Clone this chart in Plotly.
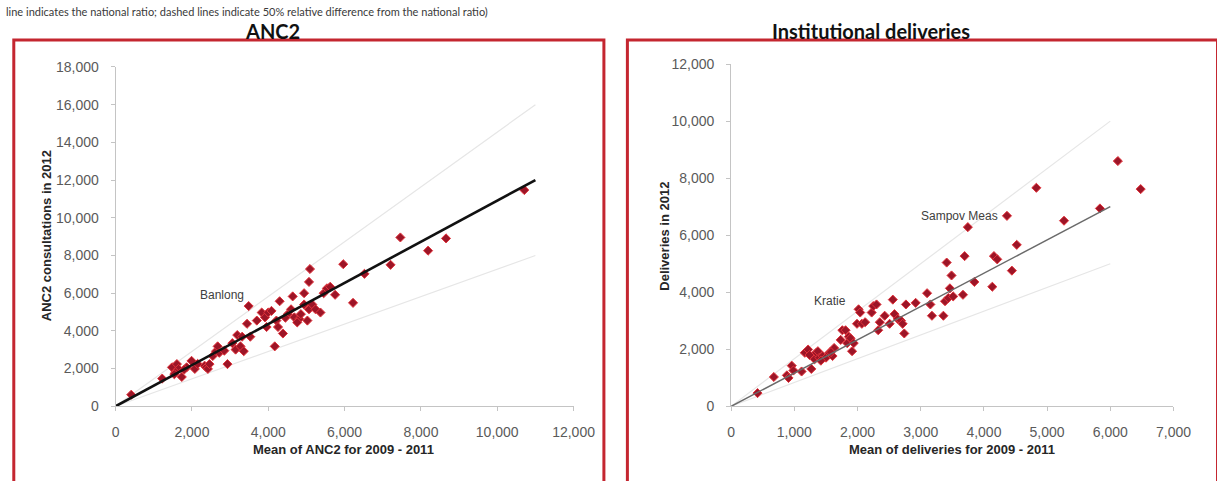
import plotly.graph_objects as go

# ---- ANC2: mean 2009-2011 vs 2012, by operational district ----
anc2_mean = [410, 1222, 1479, 1607, 1650, 1735, 1564, 1863, 1991, 2077, 2333, 2376, 2419, 2462,
             2547, 2632, 2675, 2718, 2932, 3060, 3145, 3188, 3273, 3359, 3316, 3444, 3487, 3530,
             3701, 3829, 3915, 3957, 4000, 4085, 4171, 4214, 4256, 4299, 4385, 4513, 4598, 4641,
             4684, 4812, 4855, 4940, 4940, 5026, 5068, 5068, 5094, 5154, 5239, 5368, 5453, 5538,
             5624, 5752, 5966, 6222, 6521, 7205, 7462, 8188, 8658, 10709,
             1540, 1800, 2150, 2850, 4450, 4760]
anc2_2012 = [615, 1470, 2068, 2239, 1983, 1556, 1812, 2068, 2410, 1983, 2154, 2068, 1983, 2239,
             2667, 2923, 3179, 2837, 2239, 3350, 3008, 3778, 3179, 2923, 3692, 4376, 5316, 3692,
             4547, 4974, 4718, 4205, 4974, 5060, 3179, 4547, 4205, 5573, 3863, 4889, 5145, 5829,
             4718, 4632, 4889, 6000, 5402, 4547, 5145, 6598, 7282, 5402, 5145, 4974, 6000, 6256,
             6342, 5915, 7538, 5487, 7026, 7504, 8957, 8256, 8906, 11470,
             1700, 1950, 2250, 2950, 4700, 4450]

# national ratio and +/- relative difference lines
anc2_ref_x = [0, 11000]
anc2_nat_y = [0, 12000]
anc2_up_y = [0, 16000]
anc2_lo_y = [0, 8000]

# ---- Institutional deliveries ----
del_mean = [418, 676, 882, 908, 960, 986, 1115, 1166, 1218, 1269, 1295, 1321, 1347, 1373, 1398,
            1450, 1502, 1553, 1605, 1630, 1734, 1760, 1811, 1837, 1863, 1889, 1914, 1940, 1992,
            2017, 2043, 2069, 2121, 2224, 2249, 2301, 2327, 2353, 2430, 2508, 2559, 2585, 2637,
            2688, 2714, 2740, 2766, 2920, 3101, 3153, 3178, 3359, 3385, 3411, 3437, 3462, 3488,
            3514, 3669, 3695, 3746, 3849, 4133, 4159, 4211, 4365, 4443, 4520, 4830, 5268, 5836,
            6120, 6481, 1240, 1420, 1580]
del_2012 = [463, 1028, 1085, 994, 1424, 1254, 1220, 1876, 1989, 1311, 1763, 1650, 1876, 1932, 1706,
            1763, 1706, 1876, 1763, 2045, 2328, 2667, 2667, 2215, 2441, 2384, 1932, 2215, 2893,
            3401, 3288, 2893, 2949, 3288, 3514, 3571, 2667, 2949, 3175, 2893, 3740, 3232, 3062,
            3006, 2893, 2554, 3571, 3627, 3966, 3571, 3175, 3175, 3684, 5040, 3797, 4136, 4588,
            3853, 3910, 5266, 6282, 4362, 4192, 5266, 5153, 6678, 4757, 5661, 7661, 6508, 6938,
            8599, 7616, 1800, 1600, 1900]

del_ref_x = [0, 6000]
del_nat_y = [0, 7000]
del_up_y = [0, 10000]
del_lo_y = [0, 5000]

anc2_xticks = list(range(0, 12001, 2000))
anc2_yticks = list(range(0, 18001, 2000))
del_xticks = list(range(0, 7001, 1000))
del_yticks = list(range(0, 12001, 2000))

W, H = 1217, 481


def px(x):
    return x / W


def py(y):
    return 1 - y / H


RED_FILL = "#9c1527"
RED_EDGE = "#e2333b"
BAND = "#e6e6e6"

fig = go.Figure()

# left panel traces
for yy in (anc2_up_y, anc2_lo_y):
    fig.add_trace(go.Scatter(x=anc2_ref_x, y=yy, mode="lines", xaxis="x", yaxis="y",
                             line=dict(color=BAND, width=1.2), hoverinfo="skip"))
fig.add_trace(go.Scatter(x=anc2_mean, y=anc2_2012, mode="markers", xaxis="x", yaxis="y",
                         marker=dict(symbol="diamond", size=7, color=RED_FILL,
                                     line=dict(color=RED_EDGE, width=1))))
fig.add_trace(go.Scatter(x=anc2_ref_x, y=anc2_nat_y, mode="lines", xaxis="x", yaxis="y",
                         line=dict(color="#111111", width=2.6), hoverinfo="skip"))

# right panel traces
for yy in (del_up_y, del_lo_y):
    fig.add_trace(go.Scatter(x=del_ref_x, y=yy, mode="lines", xaxis="x2", yaxis="y2",
                             line=dict(color=BAND, width=1.2), hoverinfo="skip"))
fig.add_trace(go.Scatter(x=del_mean, y=del_2012, mode="markers", xaxis="x2", yaxis="y2",
                         marker=dict(symbol="diamond", size=7, color=RED_FILL,
                                     line=dict(color=RED_EDGE, width=1))))
fig.add_trace(go.Scatter(x=del_ref_x, y=del_nat_y, mode="lines", xaxis="x2", yaxis="y2",
                         line=dict(color="#6a6a6a", width=1.5), hoverinfo="skip"))

tick_font = dict(family="Liberation Sans, Arial, sans-serif", size=14, color="#5a5a5a")
axis_common = dict(showgrid=False, zeroline=False, showline=True, linecolor="#c4c4c4",
                   linewidth=1, ticks="outside", ticklen=4, tickcolor="#c4c4c4",
                   tickfont=tick_font, tickformat=",d", fixedrange=True)

fig.update_layout(
    width=W, height=H,
    margin=dict(l=0, r=0, t=0, b=0),
    paper_bgcolor="white",
    plot_bgcolor="white",
    showlegend=False,
    xaxis=dict(domain=[px(114), px(582)], range=[0, 12000], tickvals=anc2_xticks,
               anchor="y", ticklabelstandoff=9, **axis_common),
    yaxis=dict(domain=[py(412), py(61)], range=[0, 18000], tickvals=anc2_yticks,
               anchor="x", ticklabelstandoff=9, **axis_common),
    xaxis2=dict(domain=[px(743), px(1195)], range=[0, 7000], tickvals=del_xticks,
                anchor="y2", ticklabelstandoff=9, **axis_common),
    yaxis2=dict(domain=[py(412), py(58)], range=[0, 12000], tickvals=del_yticks,
                anchor="x2", ticklabelstandoff=9, **axis_common),
)

# panel frames
fig.add_shape(type="rect", xref="paper", yref="paper", x0=px(10), x1=px(613), y0=py(500), y1=py(33),
              line=dict(color="#c42630", width=3), fillcolor="rgba(0,0,0,0)", layer="above")
fig.add_shape(type="rect", xref="paper", yref="paper", x0=px(637), x1=px(1240), y0=py(500), y1=py(33),
              line=dict(color="#c42630", width=3), fillcolor="rgba(0,0,0,0)", layer="above")

title_font = dict(family="Lato, Open Sans, sans-serif", size=20, color="#111111")
axis_title_font = dict(family="Liberation Sans, Arial, sans-serif", size=13, color="#262626")
label_font = dict(family="Liberation Sans, Arial, sans-serif", size=12, color="#404040")

annotations = [
    dict(text="line indicates the national ratio; dashed lines indicate 50% relative difference from the national ratio)",
         x=px(0), y=py(12), xanchor="left", yanchor="bottom",
         font=dict(family="Lato, Open Sans, sans-serif", size=11, color="#3a3a3a")),
    dict(text="<b>ANC2</b>", x=px(274), y=py(24), xanchor="center", yanchor="middle", font=title_font),
    dict(text="<b>Institutional deliveries</b>", x=px(886), y=py(24), xanchor="center", yanchor="middle",
         font=title_font),
    dict(text="<b>Mean of ANC2 for 2009 - 2011</b>", x=px(347), y=py(457), xanchor="center",
         yanchor="middle", font=axis_title_font),
    dict(text="<b>ANC2 consultations in 2012</b>", x=px(43), y=py(236), xanchor="center",
         yanchor="middle", textangle=-90, font=axis_title_font),
    dict(text="<b>Mean of deliveries for 2009 - 2011</b>", x=px(969), y=py(457), xanchor="center",
         yanchor="middle", font=axis_title_font),
    dict(text="<b>Deliveries in 2012</b>", x=px(675), y=py(236), xanchor="center",
         yanchor="middle", textangle=-90, font=axis_title_font),
]
for a in annotations:
    a.setdefault("xref", "paper")
    a.setdefault("yref", "paper")
    a["showarrow"] = False

# district labels placed in data coordinates
fig.add_annotation(text="Banlong", x=2800, y=5900, xref="x", yref="y", showarrow=False, font=label_font)
fig.add_annotation(text="Kratie", x=1560, y=3680, xref="x2", yref="y2", showarrow=False, font=label_font)
fig.add_annotation(text="Sampov Meas", x=4250, y=6690, xref="x2", yref="y2", xanchor="right",
                   showarrow=False, font=label_font)
for a in annotations:
    fig.add_annotation(**a)

fig.write_html("out.html")
